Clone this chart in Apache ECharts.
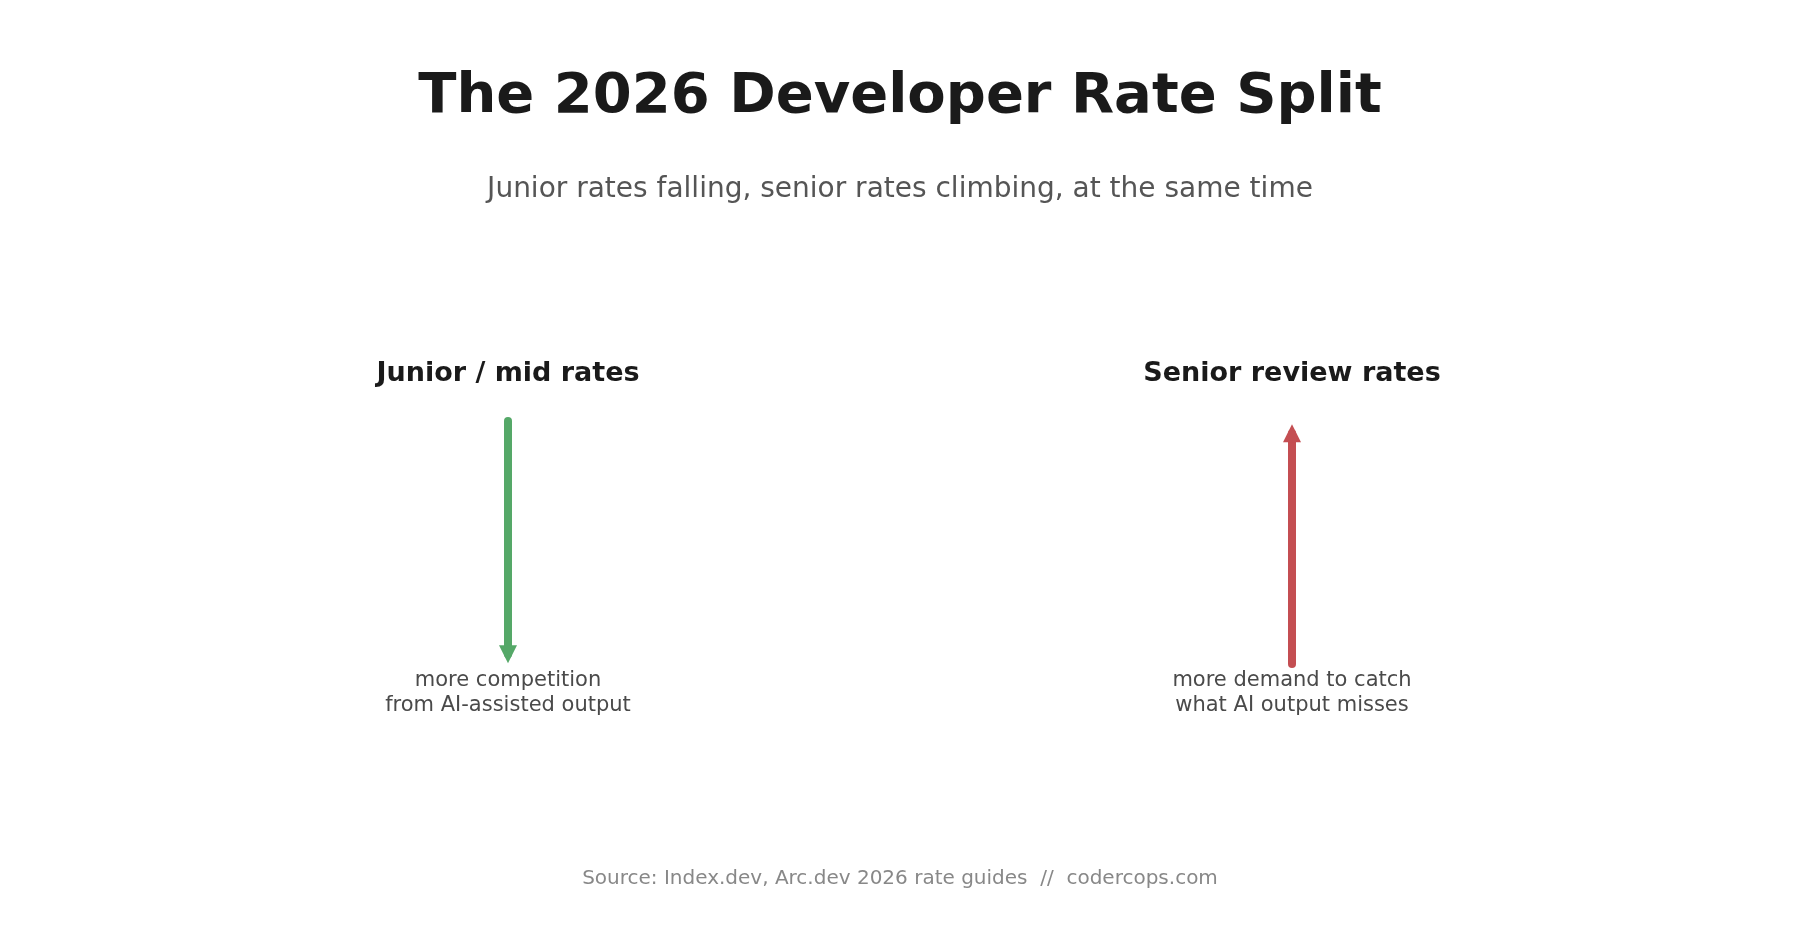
<!DOCTYPE html>
<html>
<head>
<meta charset="utf-8" />
<title>The 2026 Developer Rate Split</title>
<script src="https://cdn.jsdelivr.net/npm/echarts@6/dist/echarts.min.js"></script>
<style>
  html, body { margin: 0; padding: 0; background: #fff; }
  #main { width: 1800px; height: 945px; }
</style>
</head>
<body>
<div id="main"></div>
<script>
// data
var groups = ['Junior / mid rates', 'Senior review rates'];
var notes = ['more competition\nfrom AI-assisted output', 'more demand to catch\nwhat AI output misses'];
var arrowFrom = [1.0, 0.0];   // relative rate level, start of arrow
var arrowTo = [0.04, 0.95];   // end of arrow (head)
var arrowColors = ['#55a868', '#c44e52'];

var font = 'DejaVu Sans';

var chart = echarts.init(document.getElementById('main'));

var lineData = [];
for (var i = 0; i < groups.length; i++) {
  lineData.push({
    coords: [[groups[i], arrowFrom[i]], [groups[i], arrowTo[i]]],
    lineStyle: { color: arrowColors[i] },
    itemStyle: { color: arrowColors[i] }
  });
}

chart.setOption({
  backgroundColor: '#ffffff',
  animation: false,
  title: [{
    text: 'The 2026 Developer Rate Split',
    left: 'center',
    top: 64,
    textStyle: { fontFamily: font, fontSize: 56, fontWeight: 'bold', color: '#1a1a1a' }
  }, {
    text: 'Junior rates falling, senior rates climbing, at the same time',
    left: 'center',
    top: 171,
    textStyle: { fontFamily: font, fontSize: 28, fontWeight: 'normal', color: '#555555' }
  }, {
    text: 'Source: Index.dev, Arc.dev 2026 rate guides  //  codercops.com',
    left: 'center',
    top: 864,
    textStyle: { fontFamily: font, fontSize: 20, fontWeight: 'normal', color: '#888888' }
  }],
  grid: { left: 116, right: 116, top: 421, bottom: 281 },
  xAxis: [{
    type: 'category',
    data: groups,
    position: 'top',
    axisLine: { show: false },
    axisTick: { show: false },
    axisLabel: {
      margin: 34,
      fontFamily: font, fontSize: 27, fontWeight: 'bold', color: '#1a1a1a'
    }
  }, {
    type: 'category',
    data: notes,
    position: 'bottom',
    axisLine: { show: false },
    axisTick: { show: false },
    axisLabel: {
      margin: 4,
      fontFamily: font, fontSize: 21, lineHeight: 25, color: '#4a4a4a'
    }
  }],
  yAxis: {
    type: 'value',
    min: 0,
    max: 1,
    show: false
  },
  series: [{
    type: 'lines',
    coordinateSystem: 'cartesian2d',
    xAxisIndex: 0,
    symbol: ['none', 'triangle'],
    symbolSize: [22, 18],
    lineStyle: { width: 8, opacity: 1, cap: 'round' },
    data: lineData
  }]
});
</script>
</body>
</html>
